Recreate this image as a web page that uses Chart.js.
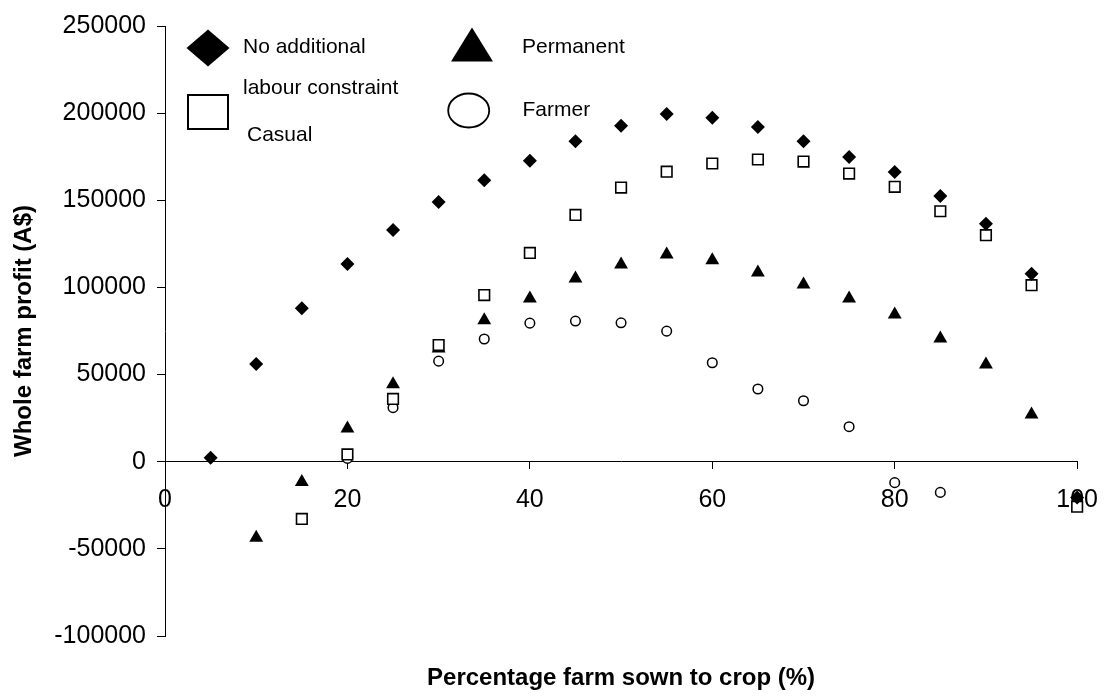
<!DOCTYPE html>
<html>
<head>
<meta charset="utf-8">
<title>Whole farm profit vs percentage sown to crop</title>
<script src="https://cdn.jsdelivr.net/npm/chart.js@4/dist/chart.umd.min.js"></script>
<style>
  html, body { margin: 0; padding: 0; background: #fff; }
  #wrap { width: 1114px; height: 698px; position: relative; }
</style>
</head>
<body>
<div id="wrap"><canvas id="profit-chart"></canvas></div>
<script>
// Percentage of farm sown to crop (x values)
const cropPercent = [5, 10, 15, 20, 25, 30, 35, 40, 45, 50, 55, 60, 65, 70, 75, 80, 85, 90, 95, 100];

// Whole farm profit (A$) per labour scenario, null where no point is shown
const noAdditional = [2300, 56000, 88000, 113400, 133000, 149000, 161500, 172700, 183900, 192800,
  199500, 197400, 192100, 183900, 174900, 166300, 152500, 136600, 107800, -20500];
const casual = [null, null, -32800, 4200, 36000, 66900, 95600, 119800, 141600, 157300,
  166400, 171100, 173400, 172200, 165300, 157700, 143700, 130000, 101300, -25800];
const permanent = [null, -43600, -11700, 19100, 44500, 65000, 81200, 93700, 105100, 113100,
  118900, 115600, 108600, 101700, 93600, 84500, 70700, 55800, 27100, null];
const farmer = [null, null, null, 1900, 31000, 57700, 70400, 79500, 80700, 79700,
  74900, 56800, 41700, 35000, 20100, -12000, -17600, null, null, null];

// Axis ticks
const xTicks = [0, 20, 40, 60, 80, 100];
const yTicks = [-100000, -50000, 0, 50000, 100000, 150000, 200000, 250000];

const FONT = "'Liberation Sans', Arial, Helvetica, sans-serif";

const toPoints = (values) => cropPercent.map((x, i) => ({ x: x, y: values[i] }));

/**
 * Legend drawn inside the plot, laid out like the original two-column box
 */
const insideLegend = {
  id: 'insideLegend',
  afterDraw(chart) {
    const ctx = chart.ctx;
    ctx.save();
    ctx.fillStyle = '#000';
    ctx.strokeStyle = '#000';

    // diamond
    ctx.beginPath();
    ctx.moveTo(186.5, 48);
    ctx.lineTo(208, 29.5);
    ctx.lineTo(229.5, 48);
    ctx.lineTo(208, 66.5);
    ctx.closePath();
    ctx.fill();

    // open square
    ctx.lineWidth = 2;
    ctx.fillStyle = '#fff';
    ctx.fillRect(188, 95, 40, 34);
    ctx.strokeRect(188, 95, 40, 34);

    // triangle
    ctx.fillStyle = '#000';
    ctx.beginPath();
    ctx.moveTo(472, 27.5);
    ctx.lineTo(493, 61.5);
    ctx.lineTo(451, 61.5);
    ctx.closePath();
    ctx.fill();

    // open circle (ellipse)
    ctx.lineWidth = 1.8;
    ctx.beginPath();
    ctx.ellipse(468.7, 110.5, 20.5, 17, 0, 0, Math.PI * 2);
    ctx.stroke();

    ctx.font = '21px ' + FONT;
    ctx.textAlign = 'left';
    ctx.textBaseline = 'alphabetic';
    ctx.fillText('No additional', 243, 52.5);
    ctx.fillText('labour constraint', 243, 93.5);
    ctx.fillText('Casual', 247, 140.5);
    ctx.fillText('Permanent', 522, 52.5);
    ctx.fillText('Farmer', 522.5, 116);
    ctx.restore();
  }
};

new Chart(document.getElementById('profit-chart'), {
  type: 'scatter',
  data: {
    datasets: [
      {
        label: 'No additional labour constraint',
        data: toPoints(noAdditional),
        pointStyle: 'rectRot',
        pointRadius: 7,
        backgroundColor: '#000',
        borderColor: '#000',
        borderWidth: 0,
        clip: false
      },
      {
        label: 'Casual',
        data: toPoints(casual),
        pointStyle: 'rect',
        pointRadius: 7.5,
        backgroundColor: '#fff',
        borderColor: '#000',
        borderWidth: 1.6,
        clip: false
      },
      {
        label: 'Permanent',
        data: toPoints(permanent),
        pointStyle: 'triangle',
        pointRadius: 8,
        backgroundColor: '#000',
        borderColor: '#000',
        borderWidth: 0,
        clip: false
      },
      {
        label: 'Farmer',
        data: toPoints(farmer),
        pointStyle: 'circle',
        pointRadius: 4.8,
        backgroundColor: '#fff',
        borderColor: '#000',
        borderWidth: 1.5,
        clip: false
      }
    ]
  },
  options: {
    responsive: true,
    maintainAspectRatio: false,
    animation: false,
    events: [],
    layout: {
      padding: { top: 23, right: 35, bottom: 0, left: 0 }
    },
    plugins: {
      legend: { display: false },
      tooltip: { enabled: false },
      title: {
        display: true,
        position: 'bottom',
        fullSize: false,
        text: 'Percentage farm sown to crop (%)',
        color: '#000',
        font: { family: FONT, size: 24, weight: 'bold' },
        padding: { top: 27.6, bottom: 5.6 }
      }
    },
    scales: {
      x: {
        type: 'linear',
        position: { y: 0 },
        min: 0,
        max: 100,
        afterBuildTicks: (scale) => { scale.ticks = xTicks.map(v => ({ value: v })); },
        afterFit: (scale) => { scale.height = 0; },
        border: { display: true, color: '#000', width: 1 },
        grid: { display: true, drawOnChartArea: false, drawTicks: true, tickLength: 7, color: '#000' },
        ticks: {
          color: '#000',
          padding: 16,
          maxRotation: 0,
          font: { family: FONT, size: 25 },
          callback: (v) => String(v)
        }
      },
      y: {
        type: 'linear',
        min: -100000,
        max: 250000,
        afterBuildTicks: (scale) => { scale.ticks = yTicks.map(v => ({ value: v })); },
        afterFit: (scale) => { scale.width = 165; },
        border: { display: true, color: '#000', width: 1 },
        grid: { display: true, drawOnChartArea: false, drawTicks: true, tickLength: 8, color: '#000' },
        ticks: {
          color: '#000',
          padding: 11,
          font: { family: FONT, size: 25 },
          callback: (v) => String(v)
        },
        title: {
          display: true,
          text: 'Whole farm profit (A$)',
          color: '#000',
          font: { family: FONT, size: 24, weight: 'bold' },
          padding: { top: 10, bottom: 0 }
        }
      }
    }
  },
  plugins: [insideLegend]
});
</script>
</body>
</html>
